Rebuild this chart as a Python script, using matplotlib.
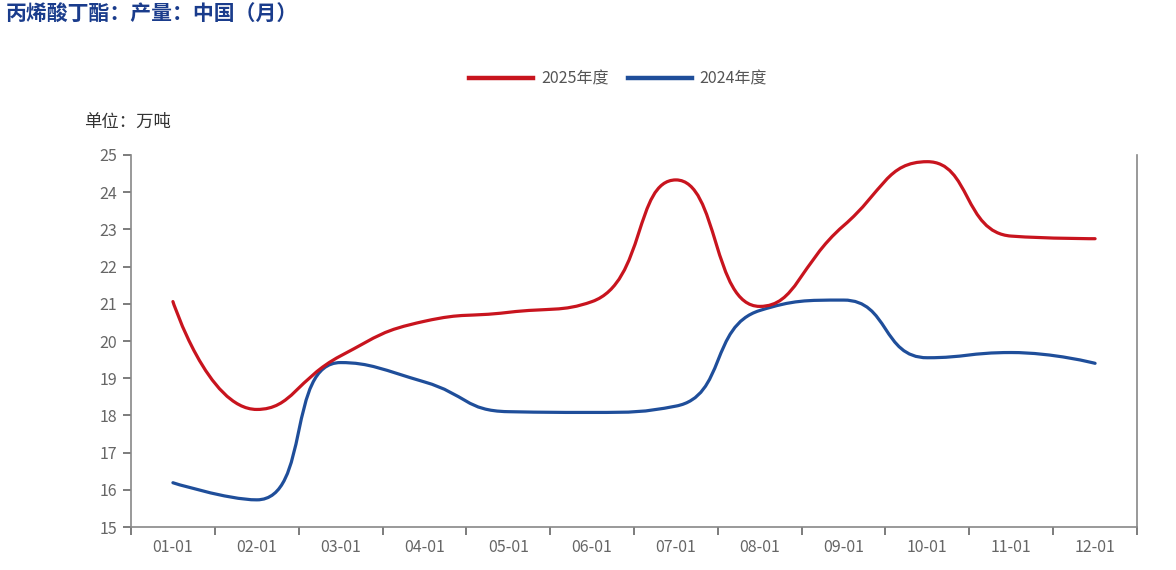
import numpy as np
import matplotlib
matplotlib.use('Agg')
from matplotlib import pyplot as plt
from matplotlib.path import Path
from matplotlib.patches import PathPatch
from matplotlib.lines import Line2D

plt.rcParams['font.family'] = ['Noto Sans CJK SC', 'DejaVu Sans']

months = ['01-01', '02-01', '03-01', '04-01', '05-01', '06-01',
          '07-01', '08-01', '09-01', '10-01', '11-01', '12-01']
y2025 = [21.06, 18.16, 19.6, 20.53, 20.77, 21.06, 24.33, 20.93, 23.1, 24.82, 22.82, 22.75]
y2024 = [16.19, 15.73, 19.42, 18.9, 18.1, 18.08, 18.25, 20.82, 21.1, 19.55, 19.69, 19.4]
yticks = list(range(15, 26))

red = '#c8141e'
blue = '#1f4e9a'
grey = '#666666'


# echarts style smooth line: bezier control points from the neighbours,
# clamped so the curve does not overshoot (done in pixel space)
def smooth_path(ax, xs, ys, smooth=0.5):
    pts = ax.transData.transform(np.column_stack([xs, ys]))
    n = len(pts)
    cps = []
    for i in range(n):
        p = pts[i]
        if i == 0 or i == n - 1:
            cps.append((p.copy(), p.copy()))
            continue
        prev, nxt = pts[i - 1], pts[i + 1]
        v = nxt - prev
        d0 = np.hypot(*(p - prev))
        d1 = np.hypot(*(p - nxt))
        r = d1 / (d0 + d1)
        c1 = p + v * smooth * r
        c1 = np.minimum(c1, np.maximum(nxt, p))
        c1 = np.maximum(c1, np.minimum(nxt, p))
        v = c1 - p
        c0 = p - v * d0 / d1
        c0 = np.minimum(c0, np.maximum(prev, p))
        c0 = np.maximum(c0, np.minimum(prev, p))
        v = p - c0
        c1 = p + v * d1 / d0
        cps.append((c0, c1))
    verts = [pts[0]]
    codes = [Path.MOVETO]
    for i in range(n - 1):
        verts += [cps[i][1], cps[i + 1][0], pts[i + 1]]
        codes += [Path.CURVE4] * 3
    inv = ax.transData.inverted()
    return Path(inv.transform(np.array(verts)), codes)


fig = plt.figure(figsize=(11.76, 5.7), dpi=100)
ax = fig.add_axes([131 / 1176, 1 - 527 / 570, (1137 - 131) / 1176, (527 - 155) / 570])
x = np.arange(len(months))
ax.set_xlim(-0.5, len(months) - 0.5)
ax.set_ylim(15, 25)

for ys, c in [(y2024, blue), (y2025, red)]:
    path = smooth_path(ax, x, ys)
    ax.add_patch(PathPatch(path, facecolor='none', edgecolor=c, lw=2.3, capstyle='round'))

ax.set_yticks(yticks)
ax.set_yticklabels([str(t) for t in yticks])
ax.set_xticks(x)
ax.set_xticklabels(months)
ax.set_xticks(np.arange(-0.5, len(months)), minor=True)
ax.tick_params(axis='x', which='major', length=0, pad=9, labelsize=11.5, colors=grey)
ax.tick_params(axis='x', which='minor', length=6, width=1.2, color=grey, direction='out')
ax.tick_params(axis='y', length=6, width=1.2, color=grey, labelsize=11.5, labelcolor=grey, pad=4)

for side in ['left', 'bottom', 'right']:
    ax.spines[side].set_color('#888888')
    ax.spines[side].set_linewidth(1.2)
ax.spines['top'].set_visible(False)

fig.text(6 / 1176, 1 - 14 / 570, '丙烯酸丁酯：产量：中国（月）', fontsize=15, fontweight='bold',
         color='#1a3c8c', va='center', ha='left')
fig.text(84 / 1176, 1 - 122 / 570, '单位：万吨', fontsize=12.5, color='#333333', va='center', ha='left')

handles = [Line2D([], [], color=red, lw=3.2), Line2D([], [], color=blue, lw=3.2)]
fig.legend(handles, ['2025年度', '2024年度'], loc='center', bbox_to_anchor=(618 / 1176, 1 - 79 / 570),
           ncol=2, frameon=False, fontsize=11.5, handlelength=4, columnspacing=1.2, handletextpad=0.5,
           labelcolor='#555555')

fig.savefig('out.png', dpi=100)
